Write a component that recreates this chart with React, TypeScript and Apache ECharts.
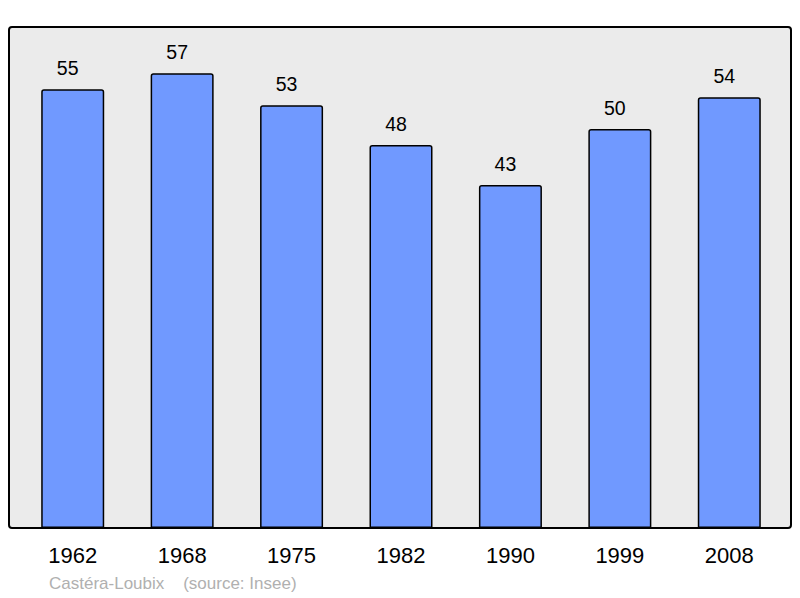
import React, { useEffect, useRef } from "react";
import * as echarts from "echarts";

const years = ["1962", "1968", "1975", "1982", "1990", "1999", "2008"];
const population = [55, 57, 53, 48, 43, 50, 54];
const sourceText = "Castéra-Loubix    (source: Insee)";

export default function App() {
  const ref = useRef<HTMLDivElement>(null);
  useEffect(() => {
    const chart = echarts.init(ref.current!, null, { renderer: "svg" });
    chart.setOption({
      animation: false,
      textStyle: { fontFamily: "Liberation Sans, Arial, sans-serif" },
      grid: { left: 18, right: 16, top: 27, bottom: 70 },
      graphic: [
        {
          type: "rect",
          z: -10,
          shape: { x: 9, y: 27, width: 782, height: 501, r: 3 },
          style: { fill: "#ebebeb", stroke: "#000", lineWidth: 2 },
          silent: true,
        },
        {
          type: "text",
          left: 49,
          top: 575,
          style: {
            text: sourceText,
            fill: "#b0b0b0",
            font: "17px 'Liberation Sans', Arial, sans-serif",
          },
        },
      ],
      xAxis: {
        type: "category",
        data: years,
        axisLine: { show: false },
        axisTick: { show: false },
        axisLabel: {
          color: "#000",
          fontSize: 22,
          margin: 16,
          fontFamily: "Liberation Sans, Arial, sans-serif",
        },
      },
      yAxis: {
        type: "value",
        min: 0,
        max: 62.8,
        show: false,
        splitLine: { show: false },
      },
      series: [
        {
          type: "bar",
          data: population,
          barWidth: 63,
          itemStyle: {
            color: "#7099ff",
            borderColor: "#000",
            borderWidth: 1.5,
            borderRadius: [2, 2, 0, 0],
          },
          label: {
            show: true,
            position: "top",
            distance: 11,
            offset: [-5, 0],
            color: "#000",
            fontSize: 19.5,
            fontFamily: "Liberation Sans, Arial, sans-serif",
          },
        },
      ],
    });
    return () => chart.dispose();
  }, []);
  return <div ref={ref} style={{ width: 800, height: 598, position: "absolute", left: 0, top: 0 }} />;
}
